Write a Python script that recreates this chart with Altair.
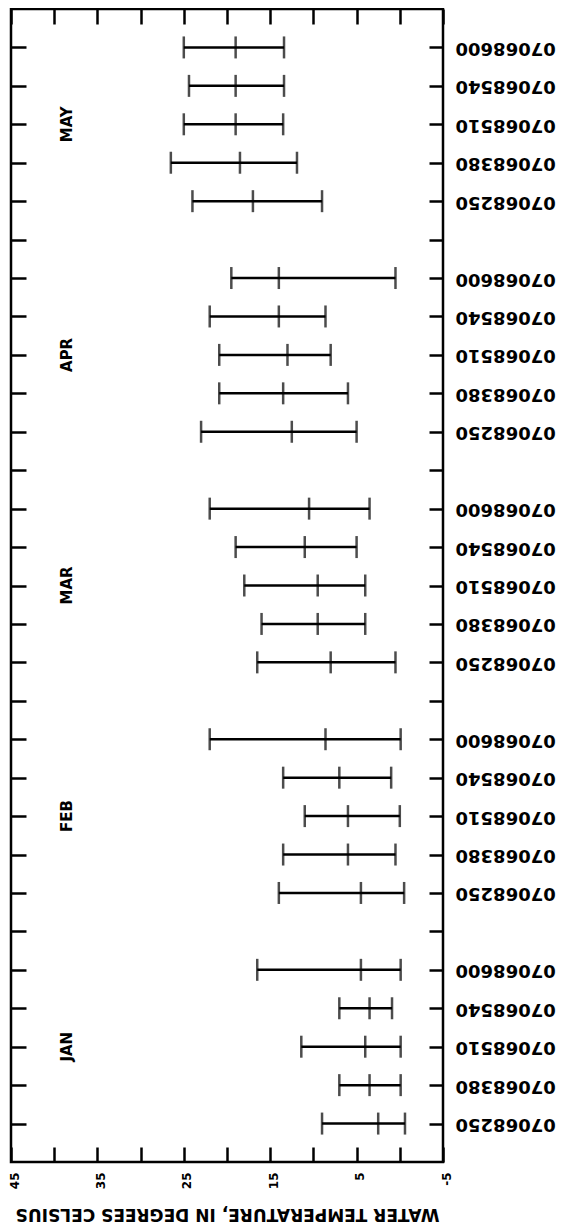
import json
import altair as alt
import pandas as pd

months = ["JAN", "FEB", "MAR", "APR", "MAY"]
stations = ["07068250", "07068380", "07068510", "07068540", "07068600"]

# values listed month by month, stations in the order of `stations`
t_max = [
    9.0, 7.0, 11.4, 7.0, 16.5,     # JAN
    14.0, 13.5, 11.0, 13.5, 22.0,  # FEB
    16.5, 16.0, 18.0, 19.0, 22.0,  # MAR
    23.0, 20.9, 20.9, 22.0, 19.5,  # APR
    24.0, 26.5, 25.0, 24.4, 25.0,  # MAY
]
t_mean = [
    2.5, 3.5, 4.0, 3.5, 4.5,
    4.5, 6.0, 6.0, 7.0, 8.6,
    8.0, 9.5, 9.5, 11.0, 10.5,
    12.5, 13.5, 13.0, 14.0, 14.0,
    17.0, 18.5, 19.0, 19.0, 19.0,
]
t_min = [
    -0.6, -0.1, -0.1, 0.9, -0.1,
    -0.5, 0.5, 0.0, 1.0, -0.1,
    0.5, 4.0, 4.0, 5.0, 3.5,
    5.0, 6.0, 8.0, 8.6, 0.5,
    9.0, 11.9, 13.5, 13.4, 13.4,
]
x_ticks = list(range(-5, 50, 5))

nst = len(stations)
nm = len(months)
slot = nst + 1
n_rows = nm * slot  # 30

records = []
row_labels = [""] * (n_rows + 1)
for m, month in enumerate(months):
    g = nm - 1 - m
    for s, st in enumerate(stations):
        i = m * nst + s
        r = g * slot + (nst - 1 - s) + 1
        row_labels[r] = st
        records.append({"month": month, "station": st, "row": r,
                        "tmin": t_min[i], "tmean": t_mean[i], "tmax": t_max[i]})
df = pd.DataFrame(records)

month_df = pd.DataFrame({
    "month": months,
    "row": [(nm - 1 - m) * slot + 3 for m in range(nm)],
})

FONT = "DejaVu Sans"
xscale = alt.Scale(domain=[-5, 45], reverse=True, nice=False, zero=False)
yscale = alt.Scale(domain=[0, n_rows], reverse=True, nice=False, zero=False)

bars = alt.Chart(df).mark_rule(color="black", strokeWidth=2.5).encode(
    x=alt.X("tmax:Q", scale=xscale, axis=alt.Axis(
        orient="bottom", values=x_ticks, offset=-15, tickSize=15, tickWidth=2.5,
        tickColor="black", domain=False, grid=False,
        labelExpr="datum.value % 10 != 0 ? '' + datum.value : ''",
        labelAngle=270, labelFont=FONT, labelFontWeight="bold", labelFontSize=12,
        labelColor="black", labelPadding=10, labelOffset=3, labelFlush=False,
        labelOverlap=False,
        title="WATER TEMPERATURE, IN DEGREES CELSIUS", titleFont=FONT,
        titleFontWeight="bold", titleFontSize=17, titleColor="black",
        titleAngle=180, titleBaseline="alphabetic", titleAlign="center",
        titleY=61)),
    x2="tmin:Q",
    y=alt.Y("row:Q", scale=yscale, axis=alt.Axis(
        orient="left", values=list(range(1, n_rows)), offset=-15, tickSize=15,
        tickWidth=2.5, tickColor="black", domain=False, grid=False,
        labels=False, title=None)),
)

ticks = alt.Chart(df).transform_fold(
    ["tmin", "tmean", "tmax"], as_=["stat", "value"]
).mark_tick(color="black", orient="vertical", size=22, thickness=2.5).encode(
    x=alt.X("value:Q", scale=xscale, axis=alt.Axis(
        orient="top", values=x_ticks, offset=-15, tickSize=15, tickWidth=2.5,
        tickColor="black", domain=False, grid=False, labels=False, title=None)),
    y=alt.Y("row:Q", scale=yscale, axis=alt.Axis(
        orient="right", values=list(range(1, n_rows)), offset=-14, tickSize=14,
        tickWidth=2.5, tickColor="black", domain=False, grid=False,
        labelExpr=json.dumps(row_labels) + "[datum.value] || ''",
        labelAngle=180, labelAlign="right", labelBaseline="middle",
        labelFont=FONT, labelFontWeight="bold", labelFontSize=18,
        labelColor="black", labelPadding=12, labelFlush=False,
        labelOverlap=False, title=None)),
)

month_text = alt.Chart(month_df).mark_text(
    angle=270, font=FONT, fontWeight="bold", fontSize=15, color="black",
    align="center", baseline="middle"
).encode(
    x=alt.X(datum=38.5, type="quantitative", scale=xscale, axis=None),
    y=alt.Y("row:Q", scale=yscale, axis=None),
    text="month:N",
)

chart = alt.layer(bars, ticks, month_text).resolve_axis(
    x="independent", y="independent"
).properties(
    width=432, height=1153,
    autosize=alt.AutoSizeParams(type="none"),
    padding={"left": 3, "top": 1, "right": 126, "bottom": 63},
    background="white",
).configure_view(stroke="black", strokeWidth=2.5)

chart.save("out.html", embed_options={"renderer": "svg", "actions": False})
